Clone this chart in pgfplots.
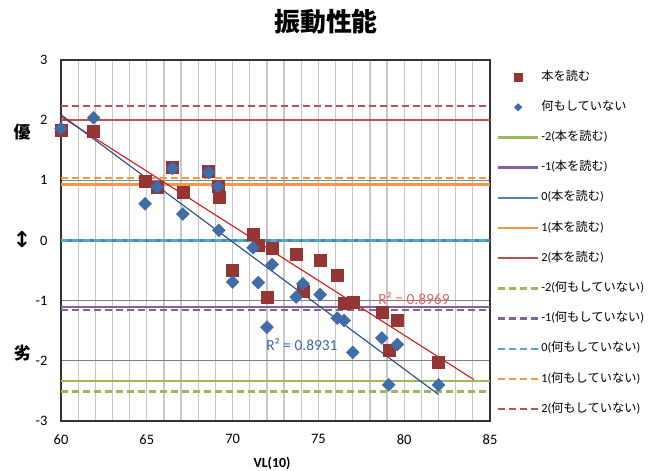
\documentclass[border=0pt]{standalone}
\usepackage{pgfplots}
\pgfplotsset{compat=1.18}
\usepackage{fontspec}
\setmainfont{Carlito}
\newfontfamily\cjk{Noto Sans CJK JP}
\newfontfamily\djv{DejaVu Sans}
\newcommand\J[1]{{\cjk #1}}
\definecolor{sqc}{RGB}{150,54,52}
\definecolor{dic}{RGB}{64,108,170}
\definecolor{cgreen}{RGB}{155,187,89}
\definecolor{cpurple}{RGB}{128,100,162}
\definecolor{cblue}{RGB}{79,129,189}
\definecolor{corange}{RGB}{247,150,70}
\definecolor{cred}{RGB}{192,80,77}
\definecolor{ccyan}{RGB}{75,172,198}
\definecolor{tred}{RGB}{220,20,20}
\definecolor{tblue}{RGB}{35,75,140}
\definecolor{rtred}{RGB}{224,100,100}
\definecolor{rtblue}{RGB}{60,105,170}
\pgfplotsset{
 linelegend/.style={legend image code/.code={\draw[##1] (0bp,0bp) -- (40bp,0bp);}},
 marklegend/.style={legend image code/.code={\draw[##1, mark size=#1] plot coordinates {(20bp,0bp)};}},
 refline/.style={line width=2.3bp, no markers, linelegend},
 refdash/.style={line width=2.3bp, no markers, dash pattern=on 7bp off 4bp, linelegend},
}
\pgfplotstableread{
x y
60.0 1.83
61.9 1.81
64.9 0.98
65.6 0.89
66.5 1.22
67.1 0.80
68.6 1.15
69.15 0.90
69.2 0.72
70.0 -0.50
71.2 0.11
71.5 -0.07
72.0 -0.95
72.3 -0.13
73.7 -0.23
74.1 -0.85
75.1 -0.32
76.1 -0.57
76.5 -1.04
77.0 -1.03
78.7 -1.19
79.1 -1.82
79.6 -1.33
82.0 -2.02
}\hon
\pgfplotstableread{
x y
60.0 1.86
61.9 2.04
64.9 0.61
65.6 0.89
66.5 1.20
67.1 0.44
68.6 1.13
69.15 0.90
69.2 0.17
70.0 -0.69
71.2 -0.12
71.5 -0.70
72.0 -1.44
72.3 -0.40
73.7 -0.94
74.1 -0.72
75.1 -0.90
76.1 -1.29
76.5 -1.33
77.0 -1.86
78.7 -1.62
79.1 -2.40
79.6 -1.73
82.0 -2.40
}\nani
\begin{document}
\begin{tikzpicture}
\path[use as bounding box] (0,0) rectangle (657bp,471bp);
\begin{axis}[
 at={(61bp,50bp)}, anchor=south west,
 scale only axis, width=429bp, height=361bp,
 xmin=60, xmax=85, ymin=-3, ymax=3,
 xtick={60,65,...,85}, ytick={-3,-2,...,3},
 minor x tick num=4,
 xmajorgrids, xminorgrids, ymajorgrids,
 every axis x grid/.append style={color=black!22, line width=1.3bp},
 every axis y grid/.append style={color=black!50, line width=1bp},
 major tick length=0pt, minor tick length=0pt,
 axis line style={line width=2.5bp, black!80},
 tick label style={font=\fontsize{14.5}{16}\selectfont},
 /pgf/number format/assume math mode=true,
 xticklabel style={yshift=-10bp},
 yticklabel style={xshift=-10bp},
 legend cell align=left,
 legend style={at={(1.0163,0.975)}, anchor=north west, draw=none, fill=none,
   inner sep=0pt, outer sep=0pt, row sep=14.2bp,
   font=\fontsize{12.3}{14}\selectfont,
   nodes={inner sep=2bp, text height=9bp, text depth=3bp}},
]
\addplot[only marks, mark=square*, mark size=6bp, color=sqc, marklegend=4bp] table {\hon};
\addlegendentry{\J{本を読む}}
\addplot[only marks, mark=square*, mark size=4.6bp, mark options={rotate=45}, color=dic, marklegend=2.6bp] table {\nani};
\addlegendentry{\J{何もしていない}}
\addplot[refline, color=cgreen] coordinates {(60,-2.33) (85,-2.33)};
\addlegendentry{-2(\J{本を読む})}
\addplot[refline, color=cpurple] coordinates {(60,-1.10) (85,-1.10)};
\addlegendentry{-1(\J{本を読む})}
\addplot[refline, color=cblue] coordinates {(60,0) (85,0)};
\addlegendentry{0(\J{本を読む})}
\addplot[refline, color=corange] coordinates {(60,0.93) (85,0.93)};
\addlegendentry{1(\J{本を読む})}
\addplot[refline, color=cred] coordinates {(60,2.00) (85,2.00)};
\addlegendentry{2(\J{本を読む})}
\addplot[refdash, color=cgreen] coordinates {(60,-2.51) (85,-2.51)};
\addlegendentry{-2(\J{何もしていない})}
\addplot[refdash, color=cpurple] coordinates {(60,-1.15) (85,-1.15)};
\addlegendentry{-1(\J{何もしていない})}
\addplot[refdash, color=ccyan] coordinates {(60,0) (85,0)};
\addlegendentry{0(\J{何もしていない})}
\addplot[refdash, color=corange] coordinates {(60,1.04) (85,1.04)};
\addlegendentry{1(\J{何もしていない})}
\addplot[refdash, color=cred] coordinates {(60,2.24) (85,2.24)};
\addlegendentry{2(\J{何もしていない})}
\addplot[forget plot, no markers, color=tred, line width=1.1bp] coordinates {(60,2.06) (84.05,-2.31)};
\addplot[forget plot, no markers, color=tblue, line width=1.1bp] coordinates {(60,2.09) (82.0,-2.56)};
\node[text=rtred, font=\fontsize{15.5}{17}\selectfont] at (axis cs:80.57,-0.96) {R² = 0.8969};
\node[text=rtblue, font=\fontsize{15.5}{17}\selectfont] at (axis cs:74.04,-1.73) {R² = 0.8931};
\end{axis}
\node[font=\cjk\bfseries\fontsize{26}{29}\selectfont] at (326bp,449bp) {振動性能};
\node[font=\cjk\bfseries\fontsize{17}{19}\selectfont] at (22bp,339bp) {優};
\node[font=\djv\bfseries\fontsize{22}{24}\selectfont] at (22bp,231bp) {↕};
\node[font=\cjk\bfseries\fontsize{17}{19}\selectfont] at (22bp,118bp) {劣};
\node[font=\bfseries\fontsize{14}{16}\selectfont] at (272bp,8bp) {VL(10)};
\end{tikzpicture}
\end{document}
